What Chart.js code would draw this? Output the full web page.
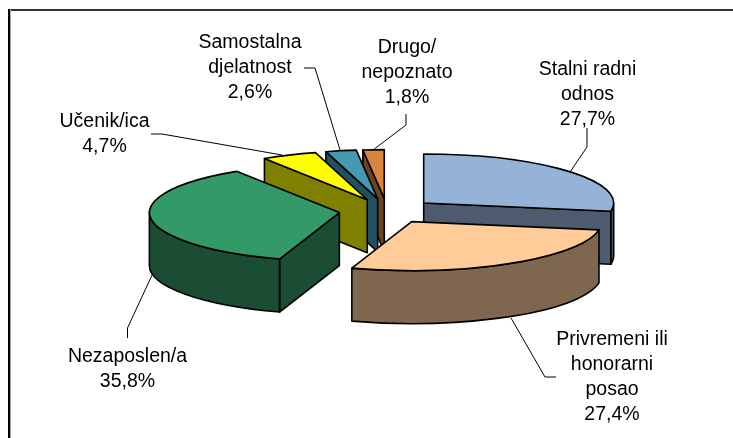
<!DOCTYPE html>
<html>
<head>
<meta charset="utf-8">
<script src="https://cdn.jsdelivr.net/npm/chart.js@4/dist/chart.umd.js"></script>
<style>
html,body{margin:0;padding:0;background:#fff;}
#wrap{position:relative;width:733px;height:438px;}
canvas{display:block;}
</style>
</head>
<body>
<div id="wrap"><canvas id="c" width="733" height="438"></canvas></div>
<script>
const categories = ["Stalni radni odnos","Privremeni ili honorarni posao","Nezaposlen/a","Učenik/ica","Samostalna djelatnost","Drugo/ nepoznato"];
const values = [27.7, 27.4, 35.8, 4.7, 2.6, 1.8];
const valueLabels = ["27,7%","27,4%","35,8%","4,7%","2,6%","1,8%"];
const labelLines = [["Stalni radni","odnos"],["Privremeni ili","honorarni","posao"],["Nezaposlen/a"],["Učenik/ica"],["Samostalna","djelatnost"],["Drugo/","nepoznato"]];
const topColors = ["#95B3D7","#FFCC99","#339966","#FFFF00","#4599B1","#DB843D"];
const wallColors = ["#4E5B6F","#7F664F","#1B4D34","#808000","#225060","#6E421F"];

const SQUASH = 49/190, DEPTH = 53, EXPLODE = 48, RADIUS = 190;
const drawOrder = [0,5,4,3,2,1];
const labelAnchors = [[587.5,75],[612,345],[127.5,362],[104.5,127],[250,47.5],[407,53]];
const leaders = [
  [[587,128],[587,147],[570,172]],
  [[511,318],[545,377],[556,377]],
  [[153,273],[127.5,328],[127.5,338]],
  [[151,134],[162,134],[282,155]],
  [[304,68],[315,68],[340,150]],
  [[406,114],[406,125],[373,150]]
];

class Pie3D extends Chart.controllers.pie {
  draw() {
    const ctx = this.chart.ctx, arcs = this.getMeta().data;
    ctx.save();
    ctx.lineWidth = 1.6; ctx.lineJoin = 'round'; ctx.strokeStyle = '#000';
    drawOrder.forEach(i => {
      const a = arcs[i]; if (!a) return;
      const mid = (a.startAngle + a.endAngle)/2;
      const ax = a.x + Math.cos(mid)*EXPLODE;
      const ay = a.y + Math.sin(mid)*EXPLODE*SQUASH;
      const r = a.outerRadius;
      const pt = t=>[ax+Math.cos(t)*r, ay+Math.sin(t)*r*SQUASH];
      const ell = (t0,t1,dy,ccw)=>ctx.ellipse(ax,ay+dy,r,r*SQUASH,0,t0,t1,ccw);
      const fs = ()=>{ctx.fillStyle=wallColors[i];ctx.fill();ctx.stroke();};
      const wall = t=>{
        const p = pt(t);
        ctx.beginPath();ctx.moveTo(ax,ay);ctx.lineTo(p[0],p[1]);ctx.lineTo(p[0],p[1]+DEPTH);ctx.lineTo(ax,ay+DEPTH);ctx.closePath();fs();
      };
      const s = a.startAngle, e = a.endAngle;
      if (Math.cos(s) < 0) wall(s);
      if (Math.cos(e) > 0) wall(e);
      // curved wall: the front-facing part of the rim (angles 0..PI)
      const lo = Math.max(s, 0), hi = Math.min(e, Math.PI);
      if (hi > lo) {
        ctx.beginPath();ell(lo,hi,0,false);ell(hi,lo,DEPTH,true);ctx.closePath();fs();
      }
      // top face
      ctx.beginPath();ctx.moveTo(ax,ay);ell(s,e,0,false);ctx.closePath();
      ctx.fillStyle = topColors[i];ctx.fill();ctx.stroke();
    });
    ctx.restore();
  }
}
Pie3D.id = 'pie3d';
Pie3D.defaults = Chart.controllers.pie.defaults;
Pie3D.overrides = Chart.controllers.pie.overrides;
Chart.register(Pie3D);

const annotate = {
  id:'annotate',
  afterDraw(chart){
    const ctx = chart.ctx;
    ctx.save();
    ctx.strokeStyle='#000';ctx.lineWidth=1;
    leaders.forEach(l=>{ctx.beginPath();l.forEach((p,j)=>j?ctx.lineTo(p[0],p[1]):ctx.moveTo(p[0],p[1]));ctx.stroke();});
    ctx.fillStyle='#000';ctx.textAlign='center';ctx.textBaseline='alphabetic';
    ctx.font='19.5px "Liberation Sans", Arial, sans-serif';
    chart.data.labels.forEach((_,i)=>{
      const [x,y]=labelAnchors[i];
      labelLines[i].concat(valueLabels[i]).forEach((t,j)=>ctx.fillText(t,x,y+j*25));
    });
    ctx.restore();
  }
};
const frame = {
  id:'frame',
  beforeDraw(chart){
    const ctx=chart.ctx;ctx.save();
    ctx.fillStyle='#fff';ctx.fillRect(0,0,733,438);
    ctx.fillStyle='#333';ctx.fillRect(8,9,725,2);
    ctx.fillStyle='#aaa';ctx.fillRect(10,9,1,429);
    ctx.fillStyle='#000';ctx.fillRect(8,9,2,429);
    ctx.restore();
  }
};

new Chart(document.getElementById('c'),{
  type:'pie3d',
  data:{labels:categories,datasets:[{data:values,backgroundColor:topColors,borderColor:'#000',borderWidth:1}]},
  options:{
    responsive:false,animation:false,radius:RADIUS,
    layout:{padding:{left:41,bottom:16}},
    plugins:{legend:{display:false},tooltip:{enabled:false},title:{display:false}}
  },
  plugins:[frame,annotate]
});
</script>
</body>
</html>
